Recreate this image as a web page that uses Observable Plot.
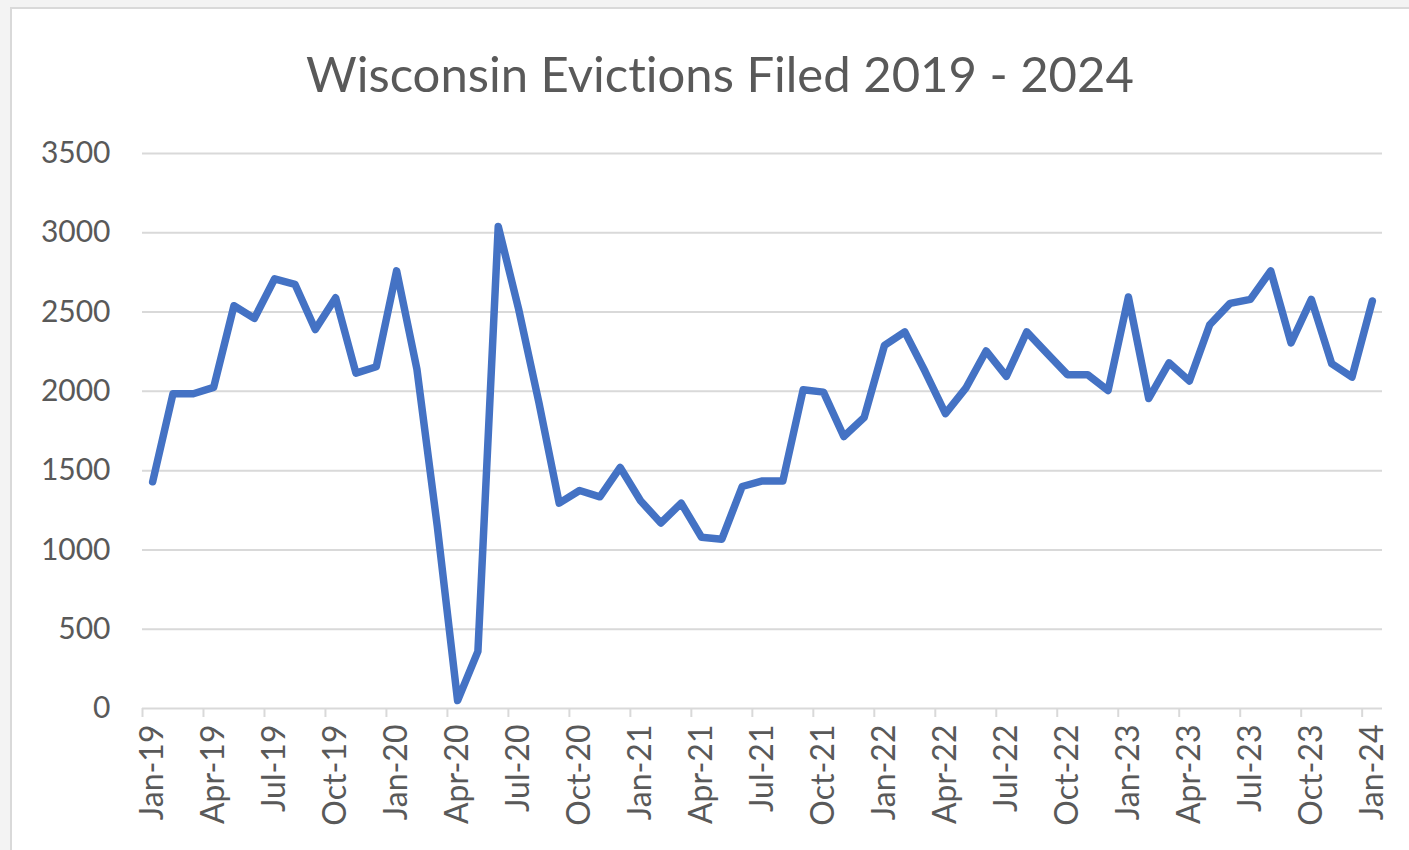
<!DOCTYPE html>
<html>
<head>
<meta charset="utf-8">
<script src="https://cdn.jsdelivr.net/npm/d3@7"></script>
<script src="https://cdn.jsdelivr.net/npm/@observablehq/plot@0.6"></script>
<style>
  html, body { margin: 0; padding: 0; overflow: hidden; background: #f3f3f3; width: 1409px; height: 850px; }
  #card { position: absolute; left: 10px; top: 7px; width: 1440px; height: 900px; background: #fff; border: 2px solid #d9d9d9; box-sizing: border-box; }
  #title { position: absolute; left: 0; top: 44px; width: 1440px; text-align: center; font-family: Lato, sans-serif; font-size: 49px; color: #595959; font-variant-ligatures: none; white-space: nowrap; }
  #chart { position: absolute; left: 0; top: 120px; }
  #chart text { font-variant-ligatures: none; }
</style>
</head>
<body>
<div id="card"></div>
<div id="title">Wisconsin Evictions Filed 2019 - 2024</div>
<div id="chart"></div>
<script>
const months = [
  "Jan-19","Feb-19","Mar-19","Apr-19","May-19","Jun-19","Jul-19","Aug-19","Sep-19","Oct-19","Nov-19","Dec-19",
  "Jan-20","Feb-20","Mar-20","Apr-20","May-20","Jun-20","Jul-20","Aug-20","Sep-20","Oct-20","Nov-20","Dec-20",
  "Jan-21","Feb-21","Mar-21","Apr-21","May-21","Jun-21","Jul-21","Aug-21","Sep-21","Oct-21","Nov-21","Dec-21",
  "Jan-22","Feb-22","Mar-22","Apr-22","May-22","Jun-22","Jul-22","Aug-22","Sep-22","Oct-22","Nov-22","Dec-22",
  "Jan-23","Feb-23","Mar-23","Apr-23","May-23","Jun-23","Jul-23","Aug-23","Sep-23","Oct-23","Nov-23","Dec-23",
  "Jan-24"
];
const evictions = [
  1430, 1985, 1985, 2025, 2540, 2460, 2710, 2675, 2390, 2590, 2115, 2155,
  2760, 2140, 1150, 50, 360, 3040, 2520, 1930, 1295, 1375, 1335, 1520,
  1310, 1170, 1295, 1080, 1068, 1400, 1435, 1435, 2010, 1995, 1715, 1835,
  2290, 2375, 2125, 1860, 2020, 2255, 2095, 2375, 2240, 2105, 2105, 2005,
  2595, 1955, 2180, 2065, 2420, 2555, 2580, 2760, 2305, 2580, 2175, 2090,
  2570
];
const yTicks = [0, 500, 1000, 1500, 2000, 2500, 3000, 3500];
const labelEvery = 3;

const data = months.map((m, i) => ({i, month: m, value: evictions[i]}));
const labelIdx = months.map((m, i) => i).filter(i => i % labelEvery === 0);
const boundaries = labelIdx.map(i => i - 0.5);

const chart = Plot.plot({
  width: 1409,
  height: 730,
  marginLeft: 142,
  marginRight: 27,
  marginTop: 33,
  marginBottom: 142,
  style: {background: "transparent", fontFamily: "Lato, sans-serif"},
  x: {type: "linear", domain: [-0.5, months.length - 0.5]},
  y: {domain: [0, 3500]},
  marks: [
    Plot.ruleY(yTicks, {stroke: "#d9d9d9", strokeWidth: 2}),
    Plot.axisY(yTicks, {tickSize: 0, tickPadding: 32, fontSize: 30, fill: "#595959", label: null, tickFormat: d => String(d)}),
    Plot.axisX(boundaries, {tickSize: 9, stroke: "#d9d9d9", strokeWidth: 2, tickFormat: () => "", label: null}),
    Plot.axisX(labelIdx, {tickSize: 0, tickRotate: -90, tickPadding: 16, tickFormat: i => months[i], fontSize: 32, fill: "#595959", label: null}),
    Plot.line(data, {x: "i", y: "value", stroke: "#4472c4", strokeWidth: 7.5, strokeLinejoin: "round", strokeLinecap: "round"})
  ]
});
document.getElementById("chart").appendChild(chart);
</script>
</body>
</html>
